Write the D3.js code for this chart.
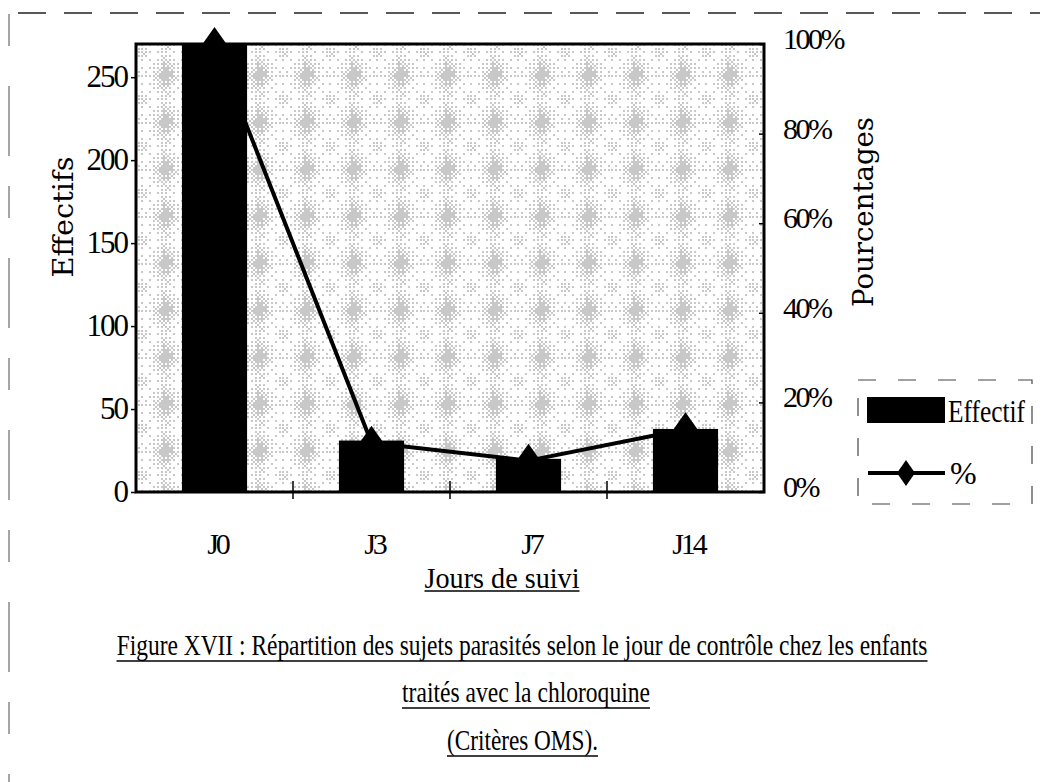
<!DOCTYPE html>
<html lang="fr">
<head>
<meta charset="utf-8">
<title>Répartition des sujets parasités</title>
<script src="https://cdn.jsdelivr.net/npm/d3@7"></script>
<style>
  html, body { margin: 0; padding: 0; background: #fff; }
  svg { display: block; }
  .serif { font-family: "Liberation Serif", "Times New Roman", serif; fill: #000; }
  .title { font-family: "DejaVu Serif", serif; fill: #000; }
</style>
</head>
<body>
<script>
// Suivi des enfants traités à la chloroquine
const categories = ["J0", "J3", "J7", "J14"];
const effectifs = [270, 31, 20, 38];
const pourcentages = [100, 11, 7, 14];
const leftTicks = [0, 50, 100, 150, 200, 250];
const rightTicks = [0, 20, 40, 60, 80, 100];
const captionLines = [
  "Figure XVII : Répartition des sujets parasités selon le jour de contrôle chez les enfants",
  "traités avec la chloroquine",
  "(Critères OMS)."
];

const W = 1046, H = 782;
const plot = { left: 136, right: 764, top: 44, bottom: 492 };

const svg = d3.select("body").append("svg")
  .attr("width", W).attr("height", H);
const defs = svg.append("defs");

// Speckled texture filling the plot area (ordered dither of soft blobs)
const tile = 47;
const pat = defs.append("pattern")
  .attr("id", "speckle")
  .attr("patternUnits", "userSpaceOnUse")
  .attr("width", tile).attr("height", tile)
  .attr("x", 141.5).attr("y", 4.5);
pat.append("rect").attr("width", tile).attr("height", tile).attr("fill", "#fff");
const bayer = [[0, 8, 2, 10], [12, 4, 14, 6], [3, 11, 1, 9], [15, 7, 13, 5]];
const dots = [];
for (let gy = 0; gy < Math.ceil(tile / 2); gy++) {
  for (let gx = 0; gx < Math.ceil(tile / 2); gx++) {
    const px = gx * 2, py = gy * 2;
    const dx = px - tile / 2, dy = py - tile / 2;
    const main = Math.exp(-(dx * dx / (2 * 7 * 7) + dy * dy / (2 * 9 * 9)));
    const cross = 0.25 * Math.exp(-dx * dx / (2 * 2.5 * 2.5)) + 0.12 * Math.exp(-dy * dy / (2 * 2.5 * 2.5));
    const ex = Math.abs(dx) - tile / 2, ey = Math.abs(dy) - tile / 2;
    const corner = 0.3 * Math.exp(-(ex * ex + ey * ey) / (2 * 5 * 5));
    const v = Math.min(1, 0.04 + 0.85 * main + cross + corner);
    if (v > (bayer[gy % 4][gx % 4] + 0.5) / 16) dots.push([px, py]);
  }
}
pat.selectAll("rect.d").data(dots).join("rect")
  .attr("class", "d")
  .attr("x", d => d[0]).attr("y", d => d[1])
  .attr("width", 1).attr("height", 1)
  .attr("fill", "#222");

// Scales
const x = d3.scaleBand().domain(categories).range([plot.left, plot.right]);
const yL = d3.scaleLinear().domain([0, 270]).range([plot.bottom, plot.top]);
const yR = d3.scaleLinear().domain([0, 100]).range([plot.bottom, plot.top]);
const barW = x.bandwidth() * 0.415;

// Page frame (dashed)
svg.append("line")
  .attr("x1", 18).attr("x2", 1040).attr("y1", 13).attr("y2", 13)
  .attr("stroke", "#222").attr("stroke-width", 1.5)
  .attr("stroke-dasharray", "28 18");
svg.append("line")
  .attr("x1", 9).attr("x2", 9).attr("y1", 14).attr("y2", H)
  .attr("stroke", "#888").attr("stroke-width", 1.5)
  .attr("stroke-dasharray", "32 40 70 30");

// Plot background
svg.append("rect")
  .attr("x", plot.left).attr("y", plot.top)
  .attr("width", plot.right - plot.left).attr("height", plot.bottom - plot.top)
  .attr("fill", "url(#speckle)");

// Bars
svg.append("g").selectAll("rect").data(categories).join("rect")
  .attr("x", (d) => x(d) + (x.bandwidth() - barW) / 2)
  .attr("width", barW)
  .attr("y", (d, i) => yL(effectifs[i]))
  .attr("height", (d, i) => yL(0) - yL(effectifs[i]))
  .attr("fill", "#000");

// Frame of the plot area
svg.append("rect")
  .attr("x", plot.left).attr("y", plot.top)
  .attr("width", plot.right - plot.left).attr("height", plot.bottom - plot.top)
  .attr("fill", "none").attr("stroke", "#000").attr("stroke-width", 3);

// Category separators on the horizontal axis
svg.append("g").selectAll("line").data(categories.slice(1)).join("line")
  .attr("x1", d => x(d)).attr("x2", d => x(d))
  .attr("y1", plot.bottom - 11).attr("y2", plot.bottom + 7)
  .attr("stroke", "#000").attr("stroke-width", 1.5);

// Percentage line
const pts = categories.map((c, i) => [x(c) + x.bandwidth() / 2, yR(pourcentages[i])]);
svg.append("path")
  .attr("d", d3.line()(pts))
  .attr("fill", "none").attr("stroke", "#000").attr("stroke-width", 4)
  .attr("stroke-linejoin", "round");
const diamond = (cx, cy, hw, hh) =>
  `M${cx},${cy - hh}L${cx + hw},${cy}L${cx},${cy + hh}L${cx - hw},${cy}Z`;
svg.append("g").selectAll("path").data(pts).join("path")
  .attr("d", d => diamond(d[0], d[1], 12, 17))
  .attr("fill", "#000");

// Left axis (Effectifs)
const axL = svg.append("g")
  .attr("transform", `translate(${plot.left},0)`)
  .call(d3.axisLeft(yL).tickValues(leftTicks).tickSize(5).tickPadding(4));
axL.select(".domain").remove();
axL.selectAll("line").attr("stroke", "#000").attr("stroke-width", 1.5);
axL.selectAll("text")
  .attr("class", "serif")
  .attr("font-size", 31)
  .attr("letter-spacing", "-2px")
  .attr("dy", "0.3em");

// Right axis (Pourcentages)
const axR = svg.append("g")
  .attr("transform", `translate(${plot.right},0)`)
  .call(d3.axisRight(yR).tickValues(rightTicks)
    .tickFormat(d => d + "%").tickSizeInner(-5).tickSizeOuter(0).tickPadding(19));
axR.select(".domain").remove();
axR.selectAll("line").attr("stroke", "#000").attr("stroke-width", 1.5);
axR.selectAll("text")
  .attr("class", "serif")
  .attr("font-size", 30)
  .attr("letter-spacing", "-2.5px")
  .attr("dy", "0.15em");

// Category labels
const axB = svg.append("g")
  .attr("transform", `translate(0,${plot.bottom})`)
  .call(d3.axisBottom(x).tickSize(0).tickPadding(0));
axB.select(".domain").remove();
axB.selectAll("text")
  .attr("class", "serif")
  .attr("font-size", 30)
  .attr("letter-spacing", "-3px")
  .attr("y", 62).attr("dy", 0).attr("dx", 3);

// Text squeezed horizontally to a given width (centered on cx)
function squeezed(cls, txt, cx, cy, width, size, rotate) {
  const t = svg.append("text").attr("class", cls)
    .attr("text-anchor", "middle").attr("font-size", size)
    .text(txt);
  const natural = t.node().getComputedTextLength();
  const sx = width / natural;
  t.attr("transform", `translate(${cx},${cy})${rotate ? " rotate(-90)" : ""} scale(${sx},1)`);
  return t;
}

// Axis titles
squeezed("title", "Effectifs", 73, 217, 121, 28, true);
squeezed("title", "Pourcentages", 873, 212, 190, 28, true);

// Underlined captions
function caption(txt, cx, baseline, width, size, ulGap) {
  squeezed("serif", txt, cx, baseline, width, size, false);
  svg.append("line")
    .attr("x1", cx - width / 2).attr("x2", cx + width / 2)
    .attr("y1", baseline + ulGap).attr("y2", baseline + ulGap)
    .attr("stroke", "#000").attr("stroke-width", 1.6);
}

caption("Jours  de  suivi", 502, 588, 155, 30, 3);
caption(captionLines[0], 522, 655, 811, 30, 6);
caption(captionLines[1], 526, 702, 248, 30, 6);
caption(captionLines[2], 522.5, 750, 151, 30, 6);

// Legend
const lg = svg.append("g");
lg.append("rect")
  .attr("x", 858).attr("y", 380).attr("width", 174).attr("height", 124)
  .attr("fill", "none").attr("stroke", "#444").attr("stroke-width", 1.2)
  .attr("stroke-dasharray", "18 22");
lg.append("rect")
  .attr("x", 867).attr("y", 397).attr("width", 78).attr("height", 26)
  .attr("fill", "#000");
squeezed("serif", "Effectif", 948 + 77 / 2, 422, 77, 32, false);
lg.append("line")
  .attr("x1", 868).attr("x2", 945).attr("y1", 473).attr("y2", 473)
  .attr("stroke", "#000").attr("stroke-width", 4);
lg.append("path").attr("d", diamond(906, 473, 9, 13)).attr("fill", "#000");
lg.append("text").attr("class", "serif")
  .attr("x", 950).attr("y", 484).attr("font-size", 32)
  .text("%");
</script>
</body>
</html>
